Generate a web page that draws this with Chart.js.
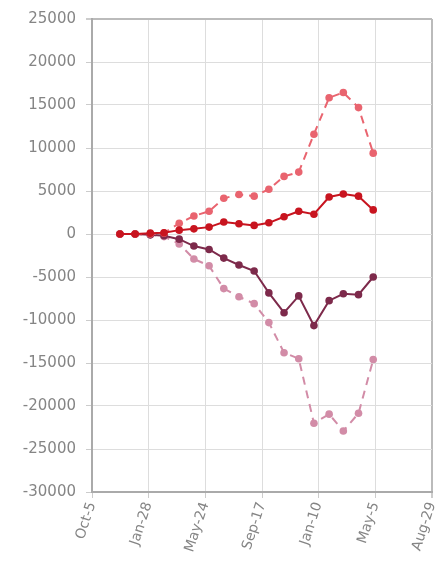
<!DOCTYPE html>
<html>
<head>
<meta charset="utf-8">
<script src="https://cdn.jsdelivr.net/npm/chart.js@4"></script>
<style>
  html, body { margin: 0; padding: 0; background: #fff; }
  #wrap { width: 440px; height: 567px; }
</style>
</head>
<body>
<div id="wrap"><canvas id="myChart" width="440" height="567"></canvas></div>
<script>
// data
const originDate = "2014-10-05";
const tickDates = ["2014-10-05", "2015-01-28", "2015-05-24", "2015-09-17", "2016-01-10", "2016-05-05", "2016-08-29"];
const pointDates = [
  "2014-12-01", "2015-01-01", "2015-02-01", "2015-03-01", "2015-04-01", "2015-05-01",
  "2015-06-01", "2015-07-01", "2015-08-01", "2015-09-01", "2015-10-01", "2015-11-01",
  "2015-12-01", "2016-01-01", "2016-02-01", "2016-03-01", "2016-04-01", "2016-05-01"
];
const redSolid = [0, 0, 100, 150, 450, 600, 800, 1400, 1200, 1000, 1300, 2000, 2650, 2300, 4300, 4650, 4400, 2800];
const redDashed = [0, 0, 0, 100, 1250, 2100, 2650, 4150, 4600, 4400, 5200, 6700, 7200, 11600, 15850, 16450, 14700, 9400];
const purpleSolid = [0, 0, -100, -200, -600, -1400, -1800, -2800, -3600, -4300, -6850, -9150, -7200, -10650, -7750, -6950, -7050, -5000];
const pinkDashed = [0, 0, -100, -300, -1150, -2900, -3700, -6350, -7300, -8100, -10300, -13800, -14500, -22000, -20950, -22900, -20850, -14600];
const yTicks = { min: -30000, max: 25000, step: 5000 };

const monthNames = ["Jan", "Feb", "Mar", "Apr", "May", "Jun", "Jul", "Aug", "Sep", "Oct", "Nov", "Dec"];
const DAY = 86400000;
function dayOf(s) {
  return Math.round((new Date(s) - new Date(originDate)) / DAY);
}
function labelOf(s) {
  const d = new Date(s);
  return monthNames[d.getUTCMonth()] + "-" + d.getUTCDate();
}
const tickDays = tickDates.map(dayOf);
const tickText = {};
tickDates.forEach(function (s) { tickText[dayOf(s)] = labelOf(s); });

function pts(values) {
  return values.map(function (v, i) { return { x: dayOf(pointDates[i]), y: v }; });
}

function series(label, values, color, dashed) {
  return {
    label: label,
    data: pts(values),
    borderColor: color,
    backgroundColor: color,
    borderWidth: 2,
    borderDash: dashed ? [8, 6] : [],
    pointRadius: 3.8,
    pointHoverRadius: 3.8,
    pointBorderWidth: 0,
    tension: 0,
  };
}

const ctx = document.getElementById("myChart");
new Chart(ctx, {
  type: "line",
  data: {
    datasets: [
      series("Red", redSolid, "#c8141f", false),
      series("Red dashed", redDashed, "#e9646f", true),
      series("Purple", purpleSolid, "#7d2a4b", false),
      series("Pink dashed", pinkDashed, "#d28ca7", true),
    ],
  },
  options: {
    responsive: false,
    animation: false,
    layout: {
      padding: { top: 17, right: 8, left: 0, bottom: 0 },
    },
    plugins: {
      legend: { display: false },
      tooltip: { enabled: false },
    },
    scales: {
      x: {
        type: "linear",
        min: tickDays[0],
        max: tickDays[tickDays.length - 1],
        afterBuildTicks: function (axis) {
          axis.ticks = tickDays.map(function (d) { return { value: d }; });
        },
        afterFit: function (axis) {
          axis.height = 75;
          axis.paddingLeft = 0;
          axis.paddingRight = 0;
        },
        ticks: {
          autoSkip: false,
          minRotation: 72,
          maxRotation: 72,
          padding: 2,
          color: "#858585",
          font: { family: "DejaVu Sans", size: 14 },
          callback: function (v) { return tickText[v]; },
        },
        grid: {
          color: function (c) { return c.index === tickDays.length - 1 ? "#bbb" : "#ddd"; },
          lineWidth: function (c) { return c.index === tickDays.length - 1 ? 2 : 1; },
          tickLength: 6,
          tickColor: "#ccc",
        },
        border: { color: "#aaa", width: 2 },
      },
      y: {
        min: yTicks.min,
        max: yTicks.max,
        afterFit: function (axis) {
          axis.width = 92;
        },
        ticks: {
          stepSize: yTicks.step,
          padding: 10,
          color: "#858585",
          font: { family: "DejaVu Sans", size: 15 },
          callback: function (v) { return String(v); },
        },
        grid: {
          color: function (c) { return c.tick && c.tick.value === yTicks.max ? "#bbb" : "#ddd"; },
          lineWidth: function (c) { return c.tick && c.tick.value === yTicks.max ? 2 : 1; },
          tickLength: 6,
          tickColor: "#ccc",
        },
        border: { color: "#aaa", width: 2 },
      },
    },
  },
});
</script>
</body>
</html>
